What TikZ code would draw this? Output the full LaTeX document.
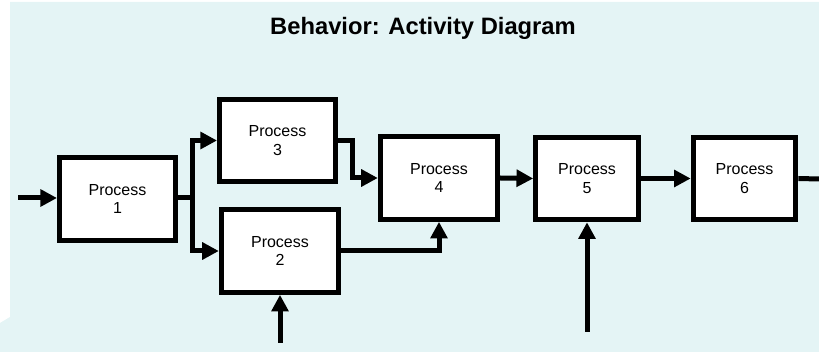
\documentclass[tikz,border=0pt]{standalone}
\usepackage{fontspec}
\setmainfont{Liberation Sans}
\usetikzlibrary{arrows.meta}
\definecolor{bgcyan}{RGB}{228,244,245}
\tikzset{
  process/.style={draw=black, line width=3.75pt, fill=white, align=center,
    inner sep=0pt, font=\fontsize{12}{13.7}\selectfont},
  flow/.style={line width=3.75pt, -{Triangle[length=12.5pt,width=12.5pt]}},
  line/.style={line width=3.75pt}
}
\begin{document}
\begin{tikzpicture}[x=0.75pt,y=-0.75pt]

    % Background
    \useasboundingbox (0,0) rectangle (819,352);
    \fill[bgcyan] (10,2) -- (819,2) -- (819,352) -- (0,352) -- (0,323) -- (10,317) -- cycle;

    % Title
    \node[font=\fontsize{17.8}{20}\selectfont\bfseries] (title) at (423,28) {Behavior: Activity Diagram};

    % Processes
    \node[process, minimum width=87pt, minimum height=62pt] (p1) at (117.5,199) {Process\\1};
    \node[process, minimum width=87pt, minimum height=62pt] (p3) at (277.5,140.5) {Process\\3};
    \node[process, minimum width=88pt, minimum height=62pt] (p2) at (280,251) {Process\\2};
    \node[process, minimum width=88pt, minimum height=62pt] (p4) at (439,178) {Process\\4};
    \node[process, minimum width=77pt, minimum height=62pt] (p5) at (587,178.5) {Process\\5};
    \node[process, minimum width=77pt, minimum height=62pt] (p6) at (744.5,178.5) {Process\\6};

    % Free ends
    \coordinate (in1) at (18,198);
    \coordinate (in2) at (280,343);
    \coordinate (in5) at (587,332);
    \coordinate (out6) at (819,179);
    \coordinate (fork) at (192,198);

    % Connectors
    \draw[flow] (in1) -- (in1 -| p1.west);
    \draw[line] (p1.east |- fork) -- (fork);
    \draw[flow] (fork) |- (p3.west);
    \draw[flow] (fork) |- (p2.west);
    \draw[flow] (p3.east) -- ++(14,0) |- (p4.west);
    \draw[flow] (p2.east) -| (p4.south);
    \draw[flow] (p4.east) -- (p5.west);
    \draw[flow] (p5.east) -- (p6.west);
    \draw[line] (p6.east) -- (out6);
    \draw[flow] (in2) -- (p2.south);
    \draw[flow] (in5) -- (p5.south);

\end{tikzpicture}
\end{document}
